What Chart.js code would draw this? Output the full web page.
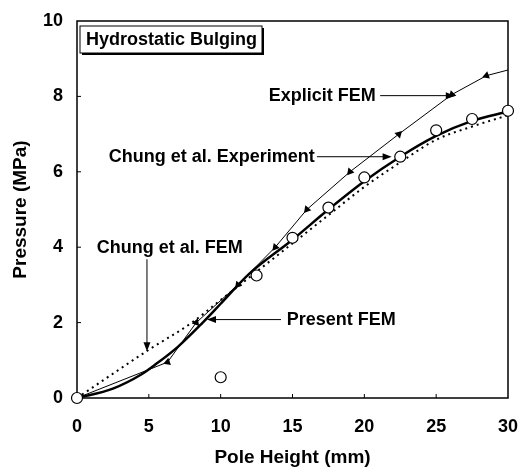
<!DOCTYPE html>
<html>
<head>
<meta charset="utf-8">
<script src="https://cdn.jsdelivr.net/npm/chart.js@4/dist/chart.umd.min.js"></script>
<style>
  html, body { margin: 0; padding: 0; background: #fff; }
  #wrap { width: 519px; height: 470px; }
</style>
</head>
<body>
<div id="wrap"><canvas id="grafico" width="519" height="470"></canvas></div>
<script>
// valores
const expX = [0, 10, 12.5, 15, 17.5, 20, 22.5, 25, 27.5, 30];
const expY = [0, 0.55, 3.25, 4.25, 5.05, 5.85, 6.4, 7.1, 7.4, 7.62];

const presentX = [0, 2.5, 4.5, 5.5, 7, 8.75, 10, 12, 15, 17.5, 20, 22.5, 25, 27.5, 30];
const presentY = [0, 0.25, 0.63, 0.9, 1.35, 2.0, 2.5, 3.3, 4.2, 5.0, 5.75, 6.4, 6.95, 7.35, 7.6];

const chungX = [0, 5, 8, 10, 12, 15, 17.5, 20, 22.5, 25, 27.5, 30];
const chungY = [0, 1.28, 2.0, 2.6, 3.2, 4.1, 4.85, 5.6, 6.25, 6.85, 7.2, 7.5];

const explicitX = [0, 6.3, 8.3, 11.2, 13.8, 16, 19, 22.4, 26.1, 28.5, 30];
const explicitY = [0, 0.95, 2.0, 3.0, 4.0, 5.0, 6.0, 7.0, 8.05, 8.55, 8.7];

const xTicks = [0, 5, 10, 15, 20, 25, 30];
const yTicks = [0, 2, 4, 6, 8, 10];

const fonte = 'bold 18px "Liberation Sans", Arial, sans-serif';

function pares(xs, ys) {
    return xs.map((x, i) => ({ x: x, y: ys[i] }));
}

// rótulos com setas (coordenadas nos eixos)
const rotulos = [
    { texto: 'Explicit FEM', x: 20.8, y: 8.02, align: 'right', seta: [21.1, 8.02, 26.3, 8.02] },
    { texto: 'Chung et al. Experiment', x: 16.55, y: 6.4, align: 'right', seta: [16.7, 6.4, 21.9, 6.4] },
    { texto: 'Chung et al. FEM', x: 6.45, y: 3.97, align: 'center', seta: [4.87, 3.68, 4.87, 1.24] },
    { texto: 'Present FEM', x: 14.6, y: 2.08, align: 'left', seta: [14.2, 2.08, 9.05, 2.08] }
];

function desenharSeta(ctx, x1, y1, x2, y2) {
    const ang = Math.atan2(y2 - y1, x2 - x1);
    const tam = 9;
    ctx.beginPath();
    ctx.moveTo(x1, y1);
    ctx.lineTo(x2 - Math.cos(ang) * tam * 0.8, y2 - Math.sin(ang) * tam * 0.8);
    ctx.stroke();
    ctx.beginPath();
    ctx.moveTo(x2, y2);
    ctx.lineTo(x2 - tam * Math.cos(ang) + 3.5 * Math.sin(ang), y2 - tam * Math.sin(ang) - 3.5 * Math.cos(ang));
    ctx.lineTo(x2 - tam * Math.cos(ang) - 3.5 * Math.sin(ang), y2 - tam * Math.sin(ang) + 3.5 * Math.cos(ang));
    ctx.closePath();
    ctx.fill();
}

const molduraPlugin = {
    id: 'moldura',
    beforeDatasetsDraw(chart) {
        const ctx = chart.ctx;
        const a = chart.chartArea;
        const sx = chart.scales.x;
        const sy = chart.scales.y;
        ctx.save();
        ctx.strokeStyle = '#000';
        ctx.fillStyle = '#000';

        // caixa do gráfico
        ctx.lineWidth = 1.5;
        ctx.strokeRect(a.left, a.top, a.right - a.left, a.bottom - a.top);

        // marcas para dentro
        ctx.lineWidth = 1;
        xTicks.slice(1, -1).forEach(v => {
            const px = sx.getPixelForValue(v);
            ctx.beginPath();
            ctx.moveTo(px, a.bottom);
            ctx.lineTo(px, a.bottom - 4);
            ctx.stroke();
        });
        yTicks.slice(1, -1).forEach(v => {
            const py = sy.getPixelForValue(v);
            ctx.beginPath();
            ctx.moveTo(a.left, py);
            ctx.lineTo(a.left + 4, py);
            ctx.stroke();
        });

        // caixa do título
        const bx = a.left + 3, by = a.top + 5, bw = 182, bh = 27;
        ctx.fillRect(bx + 2, by + 2, bw, bh);
        ctx.fillStyle = '#fff';
        ctx.fillRect(bx, by, bw, bh);
        ctx.strokeRect(bx, by, bw, bh);
        ctx.fillStyle = '#000';
        ctx.font = fonte;
        ctx.textAlign = 'left';
        ctx.textBaseline = 'middle';
        ctx.fillText('Hydrostatic Bulging', bx + 6, by + bh / 2 + 1);

        // rótulos e setas
        ctx.lineWidth = 1;
        rotulos.forEach(r => {
            ctx.textAlign = r.align;
            ctx.fillText(r.texto, sx.getPixelForValue(r.x), sy.getPixelForValue(r.y));
            desenharSeta(ctx,
                sx.getPixelForValue(r.seta[0]), sy.getPixelForValue(r.seta[1]),
                sx.getPixelForValue(r.seta[2]), sy.getPixelForValue(r.seta[3]));
        });
        ctx.restore();
    }
};

const ctx = document.getElementById('grafico').getContext('2d');

// triângulos apontando ao longo da linha
const rotacoes = [0, 250, 20, 220, 220, 220, 220, 45, 225, 250, 0];

const grafico = new Chart(ctx, {
    type: 'scatter',
    data: {
        datasets: [
            {
                label: 'Chung et al. Experiment',
                data: pares(expX, expY),
                showLine: false,
                pointStyle: 'circle',
                pointRadius: 5.5,
                pointBackgroundColor: '#fff',
                pointBorderColor: '#000',
                pointBorderWidth: 1.2
            },
            {
                label: 'Explicit FEM',
                data: pares(explicitX, explicitY),
                showLine: true,
                borderColor: '#000',
                borderWidth: 1,
                pointStyle: 'triangle',
                pointRotation: rotacoes,
                pointRadius: explicitX.map((x, i) => (i === 0 || i === explicitX.length - 1) ? 0 : 4.5),
                pointBackgroundColor: '#000',
                pointBorderColor: '#000',
                pointBorderWidth: 0
            },
            {
                label: 'Present FEM',
                data: pares(presentX, presentY),
                showLine: true,
                borderColor: '#000',
                borderWidth: 2.5,
                pointRadius: 0,
                cubicInterpolationMode: 'monotone'
            },
            {
                label: 'Chung et al. FEM',
                data: pares(chungX, chungY),
                showLine: true,
                borderColor: '#000',
                borderWidth: 2,
                borderDash: [2, 4],
                pointRadius: 0,
                cubicInterpolationMode: 'monotone'
            }
        ]
    },
    options: {
        responsive: false,
        animation: false,
        clip: false,
        layout: { padding: { top: 21, right: 11, left: 0, bottom: 0 } },
        plugins: {
            legend: { display: false },
            tooltip: { enabled: false }
        },
        scales: {
            x: {
                type: 'linear',
                min: 0,
                max: 30,
                afterFit(scale) { scale.height = 72; scale.paddingLeft = 0; scale.paddingRight = 0; },
                afterBuildTicks(scale) { scale.ticks = xTicks.map(v => ({ value: v })); },
                ticks: { color: '#000', font: { family: '"Liberation Sans", Arial', size: 18, weight: 'bold' }, padding: 18, maxRotation: 0 },
                grid: { drawOnChartArea: false, drawTicks: false },
                border: { display: false },
                title: { display: true, text: 'Pole Height (mm)', color: '#000', font: { family: '"Liberation Sans", Arial', size: 19, weight: 'bold' }, padding: { top: 0, bottom: 1 } }
            },
            y: {
                type: 'linear',
                min: 0,
                max: 10,
                afterFit(scale) { scale.width = 77; scale.paddingTop = 0; scale.paddingBottom = 0; },
                afterBuildTicks(scale) { scale.ticks = yTicks.map(v => ({ value: v })); },
                ticks: { color: '#000', font: { family: '"Liberation Sans", Arial', size: 18, weight: 'bold' }, padding: 14 },
                grid: { drawOnChartArea: false, drawTicks: false },
                border: { display: false },
                title: { display: true, text: 'Pressure (MPa)', color: '#000', font: { family: '"Liberation Sans", Arial', size: 19, weight: 'bold' }, padding: { top: 9, bottom: 0 } }
            }
        }
    },
    plugins: [molduraPlugin]
});
</script>
</body>
</html>
